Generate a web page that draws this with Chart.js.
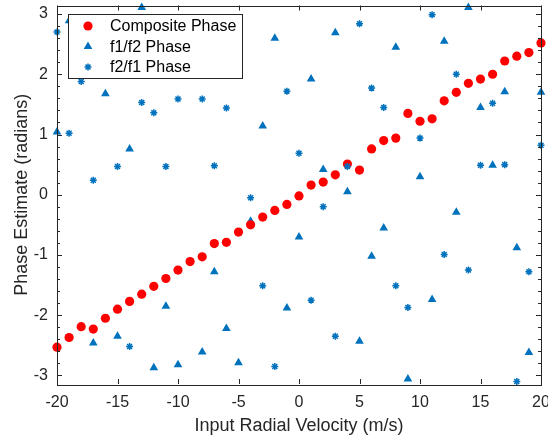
<!DOCTYPE html>
<html lang="en">
<head>
    <meta charset="UTF-8">
    <title>Phase Estimate vs Input Radial Velocity</title>
    <script src="https://cdn.jsdelivr.net/npm/chart.js"></script>
    <style>
        html, body { margin: 0; padding: 0; background: #fff; }
        canvas { display: block; }
    </style>
</head>
<body>
    <canvas id="phaseChart" width="548" height="443"></canvas>

    <script>
        // input radial velocity (m/s)
        var velocity = [-20, -19, -18, -17, -16, -15, -14, -13, -12, -11, -10, -9, -8, -7, -6, -5, -4, -3, -2, -1,
                        0, 1, 2, 3, 4, 5, 6, 7, 8, 9, 10, 11, 12, 13, 14, 15, 16, 17, 18, 19, 20];
        var compositePhase = [-2.53, -2.37, -2.19, -2.23, -2.05, -1.90, -1.77, -1.65, -1.52, -1.39, -1.25, -1.11, -1.03, -0.81,
                              -0.79, -0.62, -0.50, -0.37, -0.26, -0.16, -0.02, 0.16, 0.21, 0.33, 0.51, 0.41, 0.76, 0.90,
                              0.94, 1.35, 1.22, 1.26, 1.56, 1.70, 1.85, 1.92, 2.00, 2.22, 2.30, 2.36, 2.52];
        // null = hidden behind the legend
        var f1f2Phase = [1.04, 2.89, null, -2.46, 1.675, -2.35, 0.76, 3.11, -2.87, -1.85, -2.82, null, -2.61, -1.28,
                         -2.22, -2.79, -0.44, 1.14, 2.60, -1.88, -0.70, 1.92, 0.42, 2.69, 0.05, -2.43, -1.02, -0.55,
                         2.45, -3.06, 0.30, -1.74, 2.55, -0.29, 3.11, 1.45, 0.49, 1.71, -0.88, -2.62, 1.70];
        var f2f1Phase = [2.70, 1.02, 1.88, 0.24, null, 0.47, -2.52, 1.53, 1.36, 0.47, 1.59, null, 1.59, 0.48,
                         1.44, null, -0.05, -1.51, -2.85, 1.72, 0.69, -1.75, -0.20, -2.35, 0.47, 2.84, 1.77, 1.45,
                         -1.51, -1.87, 0.94, 2.99, -0.99, 2.00, -1.25, 0.49, 1.52, 0.50, -3.10, -1.28, 0.82];
        var xTicks = [-20, -15, -10, -5, 0, 5, 10, 15, 20];
        var yTicks = [-3, -2, -1, 0, 1, 2, 3];

        var FONT = "'Liberation Sans', Arial, Helvetica, sans-serif";
        var AXIS = '#262626';
        var RED = '#ff0000';
        var BLUE = '#0072bd';

        function toPoints(ys) {
            var pts = [];
            for (var i = 0; i < velocity.length; i++) {
                if (ys[i] !== null) pts.push({ x: velocity[i], y: ys[i] });
            }
            return pts;
        }

        // box + inward ticks, MATLAB style
        var axesBox = {
            id: 'axesBox',
            afterDatasetsDraw: function(chart) {
                var c = chart.ctx, a = chart.chartArea;
                var xs = chart.scales.x, ys = chart.scales.y;
                c.save();
                c.strokeStyle = AXIS;
                c.lineWidth = 1;
                c.beginPath();
                xTicks.forEach(function(t) {
                    var px = Math.round(xs.getPixelForValue(t)) + 0.5;
                    c.moveTo(px, a.bottom); c.lineTo(px, a.bottom - 5);
                    c.moveTo(px, a.top); c.lineTo(px, a.top + 5);
                });
                for (var k = -15; k <= 15; k++) {
                    var v = k / 5;
                    var py = Math.round(ys.getPixelForValue(v)) + 0.5;
                    var len = (k % 5 === 0) ? 5 : 3;
                    c.moveTo(a.left, py); c.lineTo(a.left + len, py);
                    c.moveTo(a.right, py); c.lineTo(a.right - len, py);
                }
                c.stroke();
                c.strokeRect(Math.round(a.left) + 0.5, Math.round(a.top) + 0.5,
                             Math.round(a.right - a.left), Math.round(a.bottom - a.top));
                c.restore();
            }
        };

        // legend drawn over the data
        var boxLegend = {
            id: 'boxLegend',
            afterDraw: function(chart) {
                var c = chart.ctx;
                var items = chart.data.datasets;
                c.save();
                c.fillStyle = '#fff';
                c.fillRect(68.5, 14.5, 174, 64);
                c.strokeStyle = AXIS;
                c.lineWidth = 1;
                c.strokeRect(68.5, 14.5, 174, 64);
                items.forEach(function(ds, i) {
                    var y = 26 + i * 20.5;
                    c.fillStyle = ds.backgroundColor;
                    c.strokeStyle = ds.borderColor;
                    c.lineWidth = ds.borderWidth;
                    Chart.helpers.drawPoint(c, {
                        pointStyle: ds.pointStyle,
                        radius: ds.pointRadius,
                        borderWidth: ds.borderWidth
                    }, 88, y);
                    c.fillStyle = '#000';
                    c.font = '16px ' + FONT;
                    c.textBaseline = 'middle';
                    c.fillText(ds.label, 110, y + 1);
                });
                c.restore();
            }
        };

        var ctx = document.getElementById('phaseChart').getContext('2d');
        var phaseChart = new Chart(ctx, {
            type: 'scatter',
            data: {
                datasets: [{
                    label: 'Composite Phase',
                    data: toPoints(compositePhase),
                    pointStyle: 'circle',
                    pointRadius: 4.6,
                    borderWidth: 0,
                    backgroundColor: RED,
                    borderColor: RED,
                    clip: false,
                    order: 1
                }, {
                    label: 'f1/f2 Phase',
                    data: toPoints(f1f2Phase),
                    pointStyle: 'triangle',
                    pointRadius: 5,
                    borderWidth: 0,
                    backgroundColor: BLUE,
                    borderColor: BLUE,
                    clip: false,
                    order: 2
                }, {
                    label: 'f2/f1 Phase',
                    data: toPoints(f2f1Phase),
                    pointStyle: 'star',
                    pointRadius: 3.5,
                    borderWidth: 1.5,
                    backgroundColor: BLUE,
                    borderColor: BLUE,
                    clip: false,
                    order: 0
                }]
            },
            options: {
                responsive: false,
                animation: false,
                layout: { padding: { top: 3, right: 7, left: 0, bottom: 0 } },
                plugins: {
                    legend: { display: false },
                    tooltip: { enabled: false }
                },
                scales: {
                    x: {
                        type: 'linear',
                        min: -20,
                        max: 20,
                        afterBuildTicks: function(scale) {
                            scale.ticks = xTicks.map(function(v) { return { value: v }; });
                        },
                        afterFit: function(scale) {
                            scale.height = 59;
                            scale.paddingLeft = 0;
                            scale.paddingRight = 0;
                        },
                        grid: { display: false, drawTicks: false },
                        border: { display: false },
                        ticks: {
                            color: AXIS,
                            font: { family: FONT, size: 16 },
                            padding: 9,
                            maxRotation: 0
                        },
                        title: {
                            display: true,
                            text: 'Input Radial Velocity (m/s)',
                            color: AXIS,
                            font: { family: FONT, size: 18 },
                            padding: { top: 0, bottom: 6 }
                        }
                    },
                    y: {
                        type: 'linear',
                        min: -Math.PI,
                        max: Math.PI,
                        afterBuildTicks: function(scale) {
                            scale.ticks = yTicks.map(function(v) { return { value: v }; });
                        },
                        afterFit: function(scale) {
                            scale.width = 57;
                            scale.paddingTop = 0;
                            scale.paddingBottom = 0;
                        },
                        grid: { display: false, drawTicks: false },
                        border: { display: false },
                        ticks: {
                            color: AXIS,
                            font: { family: FONT, size: 16 },
                            padding: 9
                        },
                        title: {
                            display: true,
                            text: 'Phase Estimate (radians)',
                            color: AXIS,
                            font: { family: FONT, size: 18 },
                            padding: { top: 11, bottom: 0 }
                        }
                    }
                }
            },
            plugins: [axesBox, boxLegend]
        });
    </script>
</body>
</html>
